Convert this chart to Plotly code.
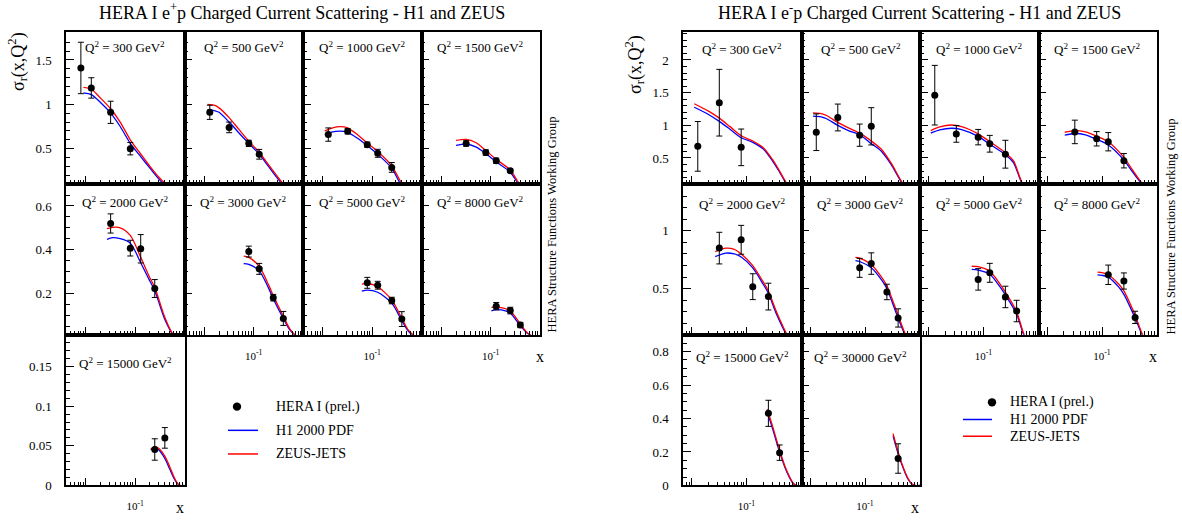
import math
import plotly.graph_objects as go

W, H = 1182, 524
FONT = "Liberation Serif, Times New Roman, serif"

# ---------------- e+p (left chart) ----------------
EP_Q2 = [300, 500, 1000, 1500, 2000, 3000, 5000, 8000, 15000]
EP_PX = [[0.008, 0.013, 0.032, 0.08], [0.013, 0.032, 0.08, 0.13], [0.013, 0.032, 0.08, 0.13, 0.25],
         [0.032, 0.08, 0.13, 0.25], [0.032, 0.08, 0.13, 0.25], [0.08, 0.13, 0.25, 0.4],
         [0.08, 0.13, 0.25, 0.4], [0.13, 0.25, 0.4], [0.25, 0.4]]
EP_PY = [[1.41, 1.185, 0.91, 0.50], [0.91, 0.74, 0.56, 0.437], [0.659, 0.696, 0.544, 0.448, 0.289],
         [0.559, 0.456, 0.363, 0.252], [0.52, 0.407, 0.404, 0.222], [0.391, 0.312, 0.18, 0.085],
         [0.248, 0.237, 0.167, 0.082], [0.141, 0.121, 0.055], [0.0454, 0.060]]
EP_PERR = [[0.29, 0.115, 0.125, 0.07], [0.08, 0.06, 0.035, 0.055], [0.075, 0.03, 0.03, 0.045, 0.055],
           [0.03, 0.03, 0.03, 0.02], [0.044, 0.036, 0.065, 0.041], [0.025, 0.025, 0.015, 0.032],
           [0.025, 0.018, 0.015, 0.034], [0.017, 0.015, 0.012], [0.0135, 0.013]]
EP_CX = [[0.009, 0.013, 0.02, 0.032, 0.05, 0.08, 0.13, 0.2, 0.3, 0.4, 0.55, 0.8, 1.0],
         [0.0117, 0.016, 0.02, 0.032, 0.05, 0.08, 0.13, 0.2, 0.3, 0.4, 0.55, 0.8, 1.0],
         [0.011, 0.016, 0.022, 0.032, 0.05, 0.08, 0.13, 0.25, 0.4, 0.55, 0.8, 1.0],
         [0.02, 0.032, 0.05, 0.08, 0.13, 0.25, 0.4, 0.55, 0.8, 1.0],
         [0.027, 0.035, 0.05, 0.08, 0.13, 0.2, 0.25, 0.4, 0.6, 0.8, 1.0],
         [0.063, 0.08, 0.13, 0.2, 0.25, 0.4, 0.55, 0.8, 1.0],
         [0.062, 0.08, 0.13, 0.25, 0.4, 0.55, 0.8, 1.0],
         [0.104, 0.13, 0.2, 0.25, 0.4, 0.55, 0.8, 1.0],
         [0.207, 0.25, 0.3, 0.4, 0.5, 0.6, 0.7, 0.8, 1.0]]
EP_RED = [[1.19, 1.17, 1.07, 0.95, 0.80, 0.60, 0.44, 0.30, 0.18, 0.11, 0.04, 0.0, 0.0],
          [1.0, 0.99, 0.96, 0.85, 0.72, 0.585, 0.46, 0.32, 0.19, 0.10, 0.035, 0.0, 0.0],
          [0.70, 0.735, 0.748, 0.735, 0.66, 0.563, 0.467, 0.307, 0.11, 0.035, 0.0, 0.0],
          [0.593, 0.605, 0.57, 0.48, 0.38, 0.26, 0.09, 0.03, 0.0, 0.0],
          [0.496, 0.502, 0.50, 0.465, 0.365, 0.27, 0.228, 0.09, 0.01, 0.0, 0.0],
          [0.37, 0.365, 0.323, 0.24, 0.19, 0.095, 0.035, 0.0, 0.0],
          [0.242, 0.245, 0.23, 0.17, 0.085, 0.03, 0.0, 0.0],
          [0.136, 0.137, 0.13, 0.12, 0.06, 0.02, 0.0, 0.0],
          [0.046, 0.049, 0.047, 0.037, 0.024, 0.012, 0.004, 0.0, 0.0]]
EP_BLUE = [[1.13, 1.11, 1.02, 0.90, 0.75, 0.56, 0.41, 0.28, 0.16, 0.09, 0.03, 0.0, 0.0],
           [0.94, 0.93, 0.91, 0.80, 0.68, 0.56, 0.44, 0.30, 0.17, 0.085, 0.03, 0.0, 0.0],
           [0.66, 0.69, 0.698, 0.685, 0.62, 0.533, 0.437, 0.28, 0.08, 0.025, 0.0, 0.0],
           [0.537, 0.55, 0.52, 0.445, 0.35, 0.235, 0.075, 0.025, 0.0, 0.0],
           [0.447, 0.455, 0.45, 0.43, 0.34, 0.255, 0.213, 0.08, 0.008, 0.0, 0.0],
           [0.336, 0.333, 0.303, 0.225, 0.175, 0.085, 0.03, 0.0, 0.0],
           [0.21, 0.215, 0.205, 0.155, 0.075, 0.025, 0.0, 0.0],
           [0.12, 0.125, 0.12, 0.11, 0.052, 0.017, 0.0, 0.0],
           [0.045, 0.047, 0.045, 0.034, 0.021, 0.01, 0.003, 0.0, 0.0]]

# ---------------- e-p (right chart) ----------------
EM_Q2 = [300, 500, 1000, 1500, 2000, 3000, 5000, 8000, 15000, 30000]
EM_PX = [[0.013, 0.032, 0.08], [0.013, 0.032, 0.08, 0.13], [0.013, 0.032, 0.08, 0.13, 0.25],
         [0.032, 0.08, 0.13, 0.25], [0.032, 0.08, 0.13, 0.25], [0.08, 0.13, 0.25, 0.4],
         [0.08, 0.13, 0.25, 0.4], [0.13, 0.25, 0.4], [0.25, 0.4], [0.4]]
EM_PY = [[0.678, 1.346, 0.663], [0.894, 1.12, 0.849, 0.985], [1.461, 0.869, 0.819, 0.718, 0.558],
         [0.899, 0.794, 0.749, 0.458], [0.851, 0.923, 0.517, 0.431], [0.68, 0.717, 0.471, 0.246],
         [0.58, 0.637, 0.428, 0.306], [0.62, 0.566, 0.251], [0.431, 0.196], [0.161]]
EM_PERR = [[0.38, 0.51, 0.28], [0.28, 0.205, 0.17, 0.285], [0.456, 0.128, 0.118, 0.128, 0.213],
           [0.18, 0.11, 0.14, 0.11], [0.137, 0.125, 0.112, 0.116], [0.082, 0.093, 0.067, 0.079],
           [0.093, 0.082, 0.093, 0.093], [0.084, 0.07, 0.053], [0.078, 0.046], [0.088]]
EM_CX = [[0.0112, 0.02, 0.032, 0.05, 0.08, 0.13, 0.2, 0.3, 0.4, 0.55, 0.7, 0.9, 1.0],
         [0.0113, 0.016, 0.02, 0.032, 0.05, 0.08, 0.13, 0.2, 0.3, 0.5, 0.7, 0.9, 1.0],
         [0.011, 0.016, 0.026, 0.04, 0.08, 0.13, 0.25, 0.35, 0.52, 0.7, 0.9, 1.0],
         [0.021, 0.032, 0.05, 0.08, 0.13, 0.25, 0.35, 0.55, 0.7, 0.9, 1.0],
         [0.027, 0.042, 0.06, 0.08, 0.13, 0.2, 0.25, 0.35, 0.55, 0.7, 0.9, 1.0],
         [0.067, 0.08, 0.13, 0.2, 0.25, 0.4, 0.55, 0.7, 0.9, 1.0],
         [0.061, 0.08, 0.13, 0.2, 0.25, 0.4, 0.55, 0.7, 0.9, 1.0],
         [0.083, 0.1, 0.13, 0.2, 0.25, 0.4, 0.55, 0.7, 0.9, 1.0],
         [0.238, 0.3, 0.4, 0.5, 0.6, 0.7, 0.8, 1.0],
         [0.324, 0.4, 0.5, 0.6, 0.7, 0.8, 1.0]]
EM_RED = [[1.33, 1.22, 1.11, 0.98, 0.84, 0.76, 0.66, 0.47, 0.30, 0.1, 0.02, 0.0, 0.0],
          [1.19, 1.18, 1.15, 1.045, 0.96, 0.88, 0.76, 0.63, 0.42, 0.1, 0.015, 0.0, 0.0],
          [0.92, 0.975, 1.005, 0.98, 0.87, 0.75, 0.58, 0.46, 0.1, 0.015, 0.0, 0.0],
          [0.894, 0.92, 0.90, 0.835, 0.75, 0.51, 0.33, 0.1, 0.02, 0.0, 0.0],
          [0.82, 0.851, 0.84, 0.80, 0.70, 0.56, 0.48, 0.30, 0.1, 0.03, 0.0, 0.0],
          [0.771, 0.765, 0.71, 0.60, 0.525, 0.27, 0.1, 0.03, 0.0, 0.0],
          [0.694, 0.69, 0.65, 0.54, 0.47, 0.30, 0.1, 0.03, 0.0, 0.0],
          [0.643, 0.638, 0.62, 0.54, 0.48, 0.27, 0.1, 0.03, 0.0, 0.0],
          [0.455, 0.35, 0.21, 0.115, 0.055, 0.015, 0.0, 0.0],
          [0.31, 0.2, 0.105, 0.045, 0.012, 0.0, 0.0]]
EM_BLUE = [[1.276, 1.17, 1.06, 0.94, 0.81, 0.74, 0.64, 0.45, 0.285, 0.09, 0.02, 0.0, 0.0],
           [1.14, 1.13, 1.10, 1.0, 0.92, 0.855, 0.72, 0.6, 0.40, 0.09, 0.015, 0.0, 0.0],
           [0.88, 0.93, 0.955, 0.935, 0.83, 0.71, 0.55, 0.43, 0.09, 0.015, 0.0, 0.0],
           [0.85, 0.875, 0.855, 0.785, 0.70, 0.47, 0.30, 0.09, 0.02, 0.0, 0.0],
           [0.777, 0.808, 0.80, 0.774, 0.68, 0.54, 0.46, 0.28, 0.09, 0.03, 0.0, 0.0],
           [0.743, 0.735, 0.68, 0.575, 0.50, 0.245, 0.09, 0.03, 0.0, 0.0],
           [0.666, 0.66, 0.625, 0.515, 0.445, 0.28, 0.09, 0.03, 0.0, 0.0],
           [0.62, 0.615, 0.60, 0.515, 0.45, 0.245, 0.09, 0.03, 0.0, 0.0],
           [0.44, 0.335, 0.20, 0.108, 0.05, 0.013, 0.0, 0.0],
           [0.295, 0.19, 0.1, 0.04, 0.01, 0.0, 0.0]]

# ---------------- axes / labels ----------------
EP_YRANGE = [[0.1, 1.81], [0.01, 0.7], [0.0, 0.19]]
EP_DTICK = [0.5, 0.2, 0.05]
EP_MINOR = [0.1, 0.05, 0.01]
EM_YRANGE = [[0.1, 2.42], [0.1, 1.405], [0.0, 0.9]]
EM_DTICK = [0.5, 0.5, 0.2]
EM_MINOR = [0.1, 0.1, 0.05]
EP_XMIN = 0.004
EM_XMIN = 0.007
X_MAJOR = [0.01, 0.1]
X_MAJOR_TEXT = ["", "10<sup>-1</sup>"]
X_MINOR = [d * 10.0 ** e for e in (-3, -2, -1) for d in range(2, 10)]

EP_TITLE = "HERA I e<sup>+</sup>p Charged Current Scattering - H1 and ZEUS"
EM_TITLE = "HERA I e<sup>-</sup>p Charged Current Scattering - H1 and ZEUS"
YTITLE = "σ<sub>r</sub>(x,Q<sup>2</sup>)"
SIDE_TEXT = "HERA Structure Functions Working Group"
LEG_LABELS = ["HERA I (prel.)", "H1 2000 PDF", "ZEUS-JETS"]

# geometry (pixels)
LEFT_COLS = [66, 184.5, 303, 421.5, 540]
RIGHT_COLS = [683, 801.5, 920, 1038.5, 1157]
ROWS = [33, 187, 340, 493]
EP_POS = [(0, 0), (0, 1), (0, 2), (0, 3), (1, 0), (1, 1), (1, 2), (1, 3), (2, 0)]
EM_POS = [(0, 0), (0, 1), (0, 2), (0, 3), (1, 0), (1, 1), (1, 2), (1, 3), (2, 0), (2, 1)]
EP_Q2_Y = [48, 205, 369]
EM_Q2_Y = [50, 207, 363]

fig = go.Figure()
layout = {}
annotations = []
shapes = []


def ann(text, xpx, ypx, size, angle=0, xanchor="center"):
    annotations.append(dict(text=text, x=xpx / W, y=1 - ypx / H, xref="paper", yref="paper",
                            showarrow=False, textangle=angle, xanchor=xanchor, yanchor="middle",
                            font=dict(family=FONT, size=size, color="black")))


counter = [0]


def build_chart(cols, positions, xmin, yranges, dticks, minors, q2s, pxs, pys, perrs, cxs, reds, blues, q2y):
    for i, (row, col) in enumerate(positions):
        counter[0] += 1
        n = counter[0]
        xs = "x" if n == 1 else f"x{n}"
        ys = "y" if n == 1 else f"y{n}"
        xk = "xaxis" if n == 1 else f"xaxis{n}"
        yk = "yaxis" if n == 1 else f"yaxis{n}"
        below = any(r > row and c == col for (r, c) in positions)
        x0, x1 = cols[col], cols[col + 1]
        ytop, ybot = ROWS[row], ROWS[row + 1]
        tf = dict(family=FONT, size=13, color="black")
        layout[xk] = dict(domain=[x0 / W, x1 / W], type="log", range=[math.log10(xmin), 0],
                          anchor=ys, showline=True, mirror=True, linecolor="black", linewidth=1.5,
                          ticks="inside", ticklen=8, tickwidth=1, tickcolor="black",
                          tickmode="array", tickvals=X_MAJOR, ticktext=X_MAJOR_TEXT,
                          showticklabels=not below, tickfont=dict(family=FONT, size=11, color="black"),
                          ticklabelstandoff=10,
                          minor=dict(tickmode="array", tickvals=X_MINOR, ticks="inside", ticklen=4,
                                     tickwidth=1, tickcolor="black", showgrid=False),
                          showgrid=False, zeroline=False)
        layout[yk] = dict(domain=[1 - ybot / H, 1 - ytop / H], range=yranges[row], anchor=xs,
                          showline=True, mirror=True, linecolor="black", linewidth=1.5,
                          ticks="inside", ticklen=8, tickwidth=1, tickcolor="black",
                          tickmode="linear", tick0=0, dtick=dticks[row],
                          showticklabels=(col == 0), tickfont=tf, ticklabelstandoff=10,
                          minor=dict(tick0=0, dtick=minors[row], ticks="inside", ticklen=4,
                                     tickwidth=1, tickcolor="black", showgrid=False),
                          showgrid=False, zeroline=False)
        fig.add_trace(go.Scatter(x=cxs[i], y=blues[i], mode="lines", xaxis=xs, yaxis=ys,
                                 line=dict(color="#0000ff", width=1.3, shape="spline", smoothing=0.8),
                                 hoverinfo="skip"))
        fig.add_trace(go.Scatter(x=cxs[i], y=reds[i], mode="lines", xaxis=xs, yaxis=ys,
                                 line=dict(color="#ff0000", width=1.3, shape="spline", smoothing=0.8),
                                 hoverinfo="skip"))
        fig.add_trace(go.Scatter(x=pxs[i], y=pys[i], mode="markers", xaxis=xs, yaxis=ys,
                                 marker=dict(color="black", size=7),
                                 error_y=dict(type="data", array=perrs[i], color="black",
                                              thickness=1, width=3)))
        ann(f"Q<sup>2</sup> = {q2s[i]} GeV<sup>2</sup>", (x0 + x1) / 2, q2y[row], 13)


build_chart(LEFT_COLS, EP_POS, EP_XMIN, EP_YRANGE, EP_DTICK, EP_MINOR, EP_Q2,
            EP_PX, EP_PY, EP_PERR, EP_CX, EP_RED, EP_BLUE, EP_Q2_Y)
build_chart(RIGHT_COLS, EM_POS, EM_XMIN, EM_YRANGE, EM_DTICK, EM_MINOR, EM_Q2,
            EM_PX, EM_PY, EM_PERR, EM_CX, EM_RED, EM_BLUE, EM_Q2_Y)

# titles and labels
ann(EP_TITLE, 302, 12, 18)
ann(EM_TITLE, 919, 12, 18)
ann(YTITLE, 17, 63, 18, angle=-90)
ann(YTITLE, 635, 66, 18, angle=-90)
ann(SIDE_TEXT, 552, 228, 12.5, angle=-90)
ann(SIDE_TEXT, 1171, 230, 12.5, angle=-90)
ann("x", 540, 362, 16)
ann("x", 180, 515, 16)
ann("x", 1153, 362, 16)
ann("x", 915, 515, 16)


def legend(mx, my, lx0, lx1, y_blue, y_red, tx):
    r = 4.2
    shapes.append(dict(type="circle", xref="paper", yref="paper",
                       x0=(mx - r) / W, x1=(mx + r) / W, y0=1 - (my + r) / H, y1=1 - (my - r) / H,
                       fillcolor="black", line=dict(color="black", width=0)))
    shapes.append(dict(type="line", xref="paper", yref="paper", x0=lx0 / W, x1=lx1 / W,
                       y0=1 - y_blue / H, y1=1 - y_blue / H, line=dict(color="#0000ff", width=1.5)))
    shapes.append(dict(type="line", xref="paper", yref="paper", x0=lx0 / W, x1=lx1 / W,
                       y0=1 - y_red / H, y1=1 - y_red / H, line=dict(color="#ff0000", width=1.5)))
    ann(LEG_LABELS[0], tx, my, 14, xanchor="left")
    ann(LEG_LABELS[1], tx, y_blue, 14, xanchor="left")
    ann(LEG_LABELS[2], tx, y_red, 14, xanchor="left")


legend(237, 413, 228, 258, 437, 461, 274)
legend(992, 408.5, 963, 992, 426, 443, 1008)

fig.update_layout(width=W, height=H, autosize=False, margin=dict(l=0, r=0, t=0, b=0),
                  paper_bgcolor="white", plot_bgcolor="white", showlegend=False,
                  annotations=annotations, shapes=shapes, **layout)
fig.write_html("out.html")
